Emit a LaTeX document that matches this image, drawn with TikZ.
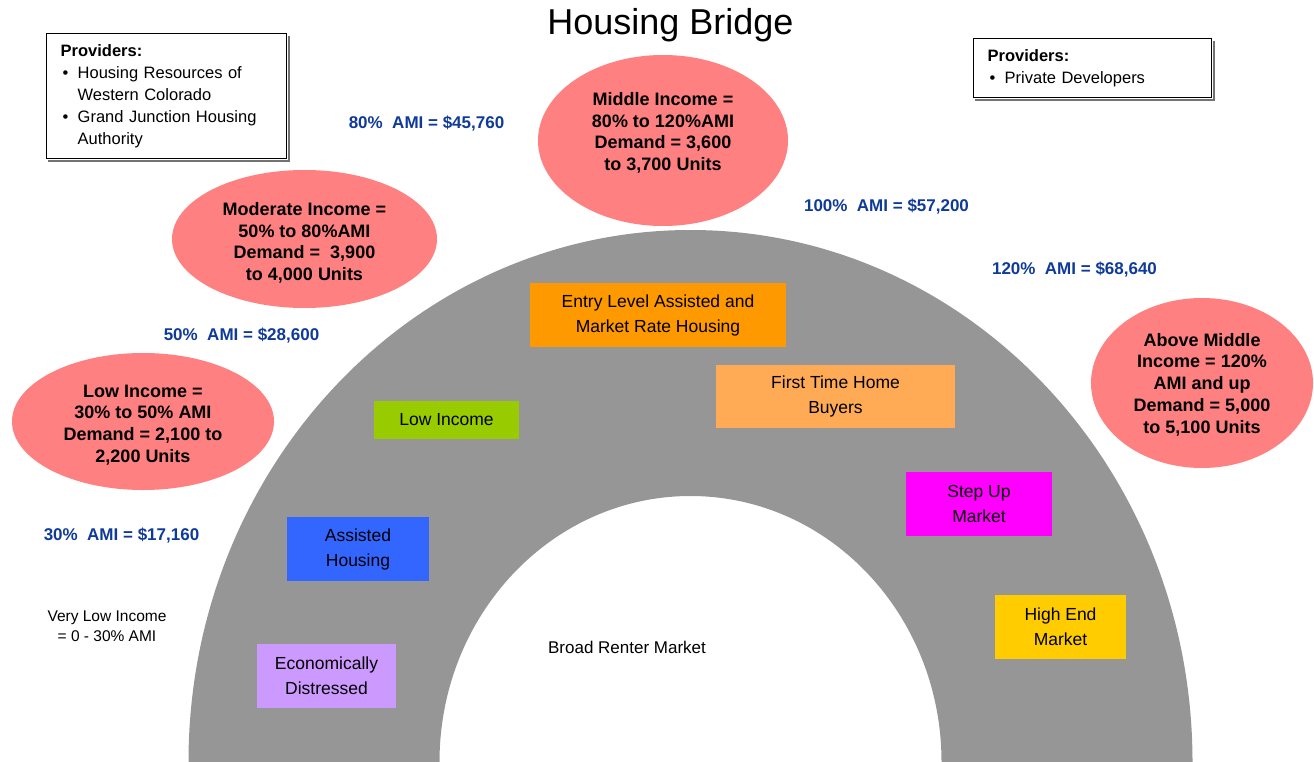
\documentclass[tikz,border=0pt]{standalone}
\usepackage{fontspec}
\setmainfont{Liberation Sans}
\usetikzlibrary{shapes.geometric}

\definecolor{archgray}{HTML}{969696}
\definecolor{bubblered}{HTML}{FF8080}
\definecolor{amiblue}{HTML}{0F3A99}
\definecolor{entryorange}{HTML}{FF9900}
\definecolor{firstorange}{HTML}{FFAA55}
\definecolor{lowgreen}{HTML}{99CC00}
\definecolor{assistblue}{HTML}{3366FF}
\definecolor{distresslilac}{HTML}{CC99FF}
\definecolor{stepmagenta}{HTML}{FF00FF}
\definecolor{highgold}{HTML}{FFCC00}

\tikzset{
  bubble/.style={ellipse, fill=bubblered, inner sep=0pt},
  bubbletext/.style={align=center, font=\fontsize{18}{21.7}\selectfont\bfseries},
  amilabel/.style={text=amiblue, font=\fontsize{17}{20}\selectfont\bfseries, inner sep=0pt},
  segment/.style={rectangle, inner sep=0pt, align=center,
    font=\fontsize{17.5}{25}\selectfont},
  providerbox/.style={rectangle, draw=black, line width=1.4pt, fill=white,
    anchor=north west, inner xsep=14pt, inner ysep=0pt, align=left,
    font=\fontsize{16.5}{22}\selectfont},
  boxshadow/.style={draw=black!55, line width=1.4pt},
  plain/.style={align=center, inner sep=0pt}
}

\newcommand{\provbullet}{\hspace*{2pt}\makebox[15pt][l]{\textbullet}}
\newcommand{\provindent}{\hspace*{17pt}}

\begin{document}
\begin{tikzpicture}[x=1pt,y=-1pt]
\useasboundingbox (0,0) rectangle (1314,762);

% the bridge: half of an elliptical ring standing on the lower edge
\begin{scope}
  \clip (0,0) rectangle (1314,762);
  \fill[archgray, even odd rule]
    (690.5,762) ellipse [x radius=502, y radius=532]
    (690.5,762) ellipse [x radius=251, y radius=266];
\end{scope}

% title
\node[anchor=base, inner sep=0pt, font=\fontsize{36}{40}\selectfont] (title) at (670.5,35) {Housing Bridge};

% provider boxes
\draw[boxshadow] (48,161) -- (289,161) -- (289,36);
\node[providerbox, text width=212pt, minimum width=240pt, minimum height=125pt] (provleft) at (46,33)
  {\textbf{Providers:}\\
   \provbullet Housing Resources of\\
   \provindent Western Colorado\\
   \provbullet Grand Junction Housing\\
   \provindent Authority};
\draw[boxshadow] (975,100) -- (1214,100) -- (1214,41);
\node[providerbox, text width=210pt, minimum width=238pt, minimum height=59pt] (provright) at (973,38)
  {\textbf{Providers:}\\
   \provbullet Private Developers};

% income bands
\node[bubble, minimum width=250pt, minimum height=171pt] (midbubble) at (663,140.5) {};
\node[bubbletext] (midtext) at (663,133) {Middle Income =\\80\% to 120\%AMI\\Demand = 3,600\\to 3,700 Units};

\node[bubble, minimum width=265pt, minimum height=138pt] (modbubble) at (304.5,239) {};
\node[bubbletext] (modtext) at (304.5,243) {Moderate Income =\\50\% to 80\%AMI\\Demand =\ \ 3,900\\to 4,000 Units};

\node[bubble, minimum width=262pt, minimum height=137pt] (lowbubble) at (143,421.5) {};
\node[bubbletext] (lowtext) at (143,425) {Low Income =\\30\% to 50\% AMI\\Demand = 2,100 to\\2,200 Units};

\node[bubble, minimum width=222pt, minimum height=170pt] (abovebubble) at (1202,383) {};
\node[bubbletext] (abovetext) at (1202,384.5) {Above Middle\\Income = 120\%\\AMI and up\\Demand = 5,000\\to 5,100 Units};

% AMI thresholds
\node[amilabel] (ami80) at (426.5,123.5) {80\%\ \ AMI = \$45,760};
\node[amilabel] (ami100) at (886.5,206.5) {100\%\ \ AMI = \$57,200};
\node[amilabel] (ami120) at (1074.5,269.5) {120\%\ \ AMI = \$68,640};
\node[amilabel] (ami50) at (241.5,335.5) {50\%\ \ AMI = \$28,600};
\node[amilabel] (ami30) at (121.5,535.5) {30\%\ \ AMI = \$17,160};

\node[plain, font=\fontsize{15.5}{20}\selectfont] (verylow) at (107,626) {Very Low Income\\= 0 - 30\% AMI};

% market segments along the bridge
\node[segment, fill=entryorange, minimum width=256pt, minimum height=64pt] (entry) at (658,315) {Entry Level Assisted and\\Market Rate Housing};
\node[segment, fill=firstorange, minimum width=239pt, minimum height=63pt] (firsttime) at (835.5,396) {First Time Home\\Buyers};
\node[segment, fill=lowgreen, minimum width=145pt, minimum height=38pt] (lowinc) at (446.5,420) {Low Income};
\node[segment, fill=assistblue, minimum width=142pt, minimum height=64pt] (assisted) at (358,549) {Assisted\\Housing};
\node[segment, fill=distresslilac, minimum width=139pt, minimum height=64pt] (distressed) at (326.5,676) {Economically\\Distressed};
\node[segment, fill=stepmagenta, minimum width=146pt, minimum height=64pt] (stepup) at (979,504) {Step Up\\Market};
\node[segment, fill=highgold, minimum width=131pt, minimum height=64pt] (highend) at (1060.5,627) {High End\\Market};

\node[plain, font=\fontsize{17}{20}\selectfont] (renter) at (627,647) {Broad Renter Market};

\end{tikzpicture}
\end{document}
